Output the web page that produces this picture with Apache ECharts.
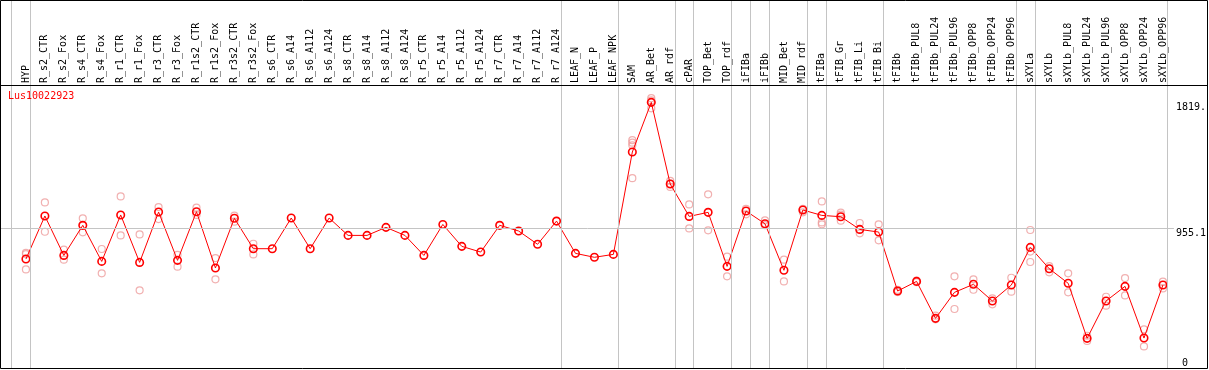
<!DOCTYPE html>
<html><head><meta charset="utf-8">
<script src="https://cdn.jsdelivr.net/npm/echarts@6/dist/echarts.min.js"></script>
<style>html,body{margin:0;padding:0;background:#fff}#c{width:1209px;height:370px}</style>
</head><body><div id="c"></div>
<script>
const geneId = 'Lus10022923';
const categories = ['HYP','R_s2_CTR','R_s2_Fox','R_s4_CTR','R_s4_Fox','R_r1_CTR','R_r1_Fox','R_r3_CTR','R_r3_Fox','R_r1s2_CTR','R_r1s2_Fox','R_r3s2_CTR','R_r3s2_Fox','R_s6_CTR','R_s6_A14','R_s6_A112','R_s6_A124','R_s8_CTR','R_s8_A14','R_s8_A112','R_s8_A124','R_r5_CTR','R_r5_A14','R_r5_A112','R_r5_A124','R_r7_CTR','R_r7_A14','R_r7_A112','R_r7_A124','LEAF_N','LEAF_P','LEAF_NPK','SAM','AR_Bet','AR_rdf','cPAR','TOP_Bet','TOP_rdf','iFIBa','iFIBb','MID_Bet','MID_rdf','tFIBa','tFIB_Gr','tFIB_Li','tFIB_Bi','tFIBb','tFIBb_PUL8','tFIBb_PUL24','tFIBb_PUL96','tFIBb_OPP8','tFIBb_OPP24','tFIBb_OPP96','sXYLa','sXYLb','sXYLb_PUL8','sXYLb_PUL24','sXYLb_PUL96','sXYLb_OPP8','sXYLb_OPP24','sXYLb_OPP96'];
const means = [746,1041,771,977,730,1048,723,1068,737,1070,685,1025,817,817,1027,817,1027,908,908,963,908,771,983,833,794,977,938,847,1006,785,758,778,1479,1819,1260,1038,1066,696,1075,988,669,1082,1045,1036,949,931,527,593,340,518,573,459,568,826,680,580,203,459,559,205,568];
const replicates = [[789,780,675],[1134,933],[810,742],[1025,929],[815,648],[1175,908],[915,532],[1102,1020],[774,694],[1098,1048],[753,607],[1043,1002],[851,778],[],[],[],[],[],[],[],[],[],[],[],[],[],[],[],[],[],[],[],[1560,1543,1525,1300],[1848,1832,1778],[1282,1262,1240],[1120,956],[1189,943],[762,628],[1089,1052],[1011,978],[742,593],[1089,1066],[1141,997,984],[1064,1050,1009],[993,922],[984,874],[535,520],[598,588],[358,333],[628,404],[607,536],[477,436],[618,523],[945,797,726],[698,655],[648,518],[221,185],[488,427],[616,497],[265,148],[591,545]];
const groupEnds = [-1,0,28,31,34,35,37,38,39,41,42,45,52,53,60];
const yTickValues = [955.1, 1819];
const yTickLabels = ['955.1', '1819.'];
const yZeroValue = 0;
const yZeroLabel = '0';

const FONT = 'DejaVu Sans Mono';
const chart = echarts.init(document.getElementById('c'), null, {renderer: 'canvas'});
const repData = [];
replicates.forEach((arr, i) => arr.forEach(v => repData.push([i, v])));
const meanData = means.map((v, i) => [i, v]);

const yAxisBase = {
  type: 'value', position: 'right', min: 0, max: 2520, offset: 0,
  axisLine: {show: false}, axisTick: {show: false}, splitLine: {show: false}
};

chart.setOption({
  animation: false,
  backgroundColor: '#fff',
  title: {text: geneId, left: 8, top: 91, padding: 0,
    textStyle: {color: '#ff0000', fontSize: 10, fontWeight: 'normal', fontFamily: FONT}},
  grid: {left: 1, right: 32, top: 0, bottom: 2, containLabel: false},
  xAxis: {
    type: 'value', min: -25/19, max: 1151/19, position: 'top', offset: -85,
    axisLine: {show: false}, axisTick: {show: false}, splitLine: {show: false},
    axisLabel: {
      customValues: categories.map((c, i) => i),
      formatter: v => categories[Math.round(v)] || '',
      rotate: 90, margin: 2, color: '#000', fontSize: 10, fontFamily: FONT
    }
  },
  yAxis: [
    Object.assign({}, yAxisBase, {axisLabel: {
      customValues: yTickValues,
      formatter: v => yTickLabels[yTickValues.indexOf(v)] || String(v),
      verticalAlign: 'top', margin: 2, color: '#000', fontSize: 10, fontFamily: FONT}}),
    Object.assign({}, yAxisBase, {axisLabel: {
      customValues: [yZeroValue], formatter: () => yZeroLabel,
      verticalAlign: 'bottom', margin: 8, color: '#000', fontSize: 10, fontFamily: FONT}})
  ],
  graphic: [
    {type: 'rect', shape: {x: 0.5, y: 0.5, width: 1207, height: 368},
      style: {fill: 'none', stroke: '#000', lineWidth: 1}, z: 100, silent: true},
    {type: 'line', shape: {x1: 0, y1: 85.5, x2: 1208, y2: 85.5},
      style: {stroke: '#000', lineWidth: 1}, z: 100, silent: true}
  ],
  series: [
    {
      type: 'scatter', name: 'replicates', data: repData, z: 2,
      symbol: 'circle', symbolSize: 7,
      itemStyle: {color: 'rgba(0,0,0,0)', borderColor: '#ee9c9c', borderWidth: 1.2},
      markLine: {
        silent: true, symbol: 'none', animation: false,
        label: {show: false},
        lineStyle: {color: '#c4c4c4', width: 1, type: 'solid'},
        data: groupEnds.map(g => ({xAxis: g + 4.5/19})).concat([{yAxis: yTickValues[0]}])
      }
    },
    {
      type: 'line', name: 'mean', data: meanData, z: 3,
      symbol: 'circle', symbolSize: 7.5,
      lineStyle: {color: '#ff0000', width: 1},
      itemStyle: {color: 'rgba(0,0,0,0)', borderColor: '#ff0000', borderWidth: 1.6}
    }
  ]
});
</script></body></html>
